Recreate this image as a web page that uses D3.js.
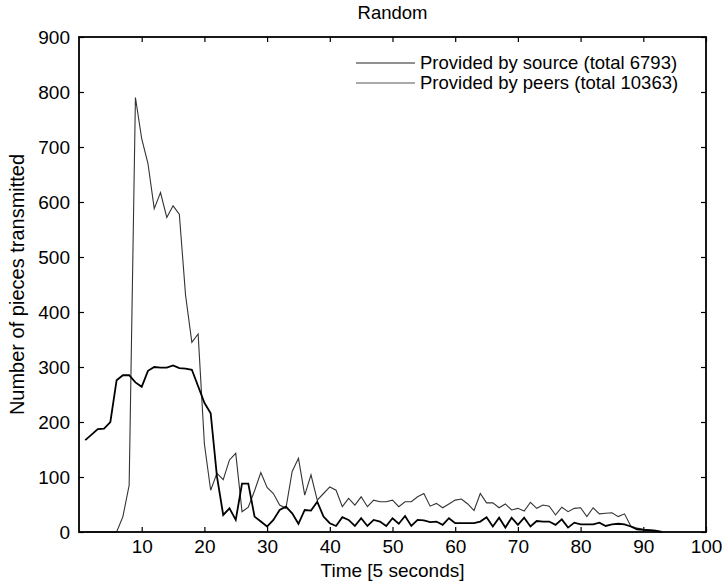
<!DOCTYPE html>
<html>
<head>
<meta charset="utf-8">
<script src="https://cdn.jsdelivr.net/npm/d3@7"></script>
<style>
  body { margin: 0; background: #fff; }
  text { font-family: "Liberation Sans", Arial, sans-serif; fill: #000; }
</style>
</head>
<body>
<div id="chart"></div>
<script>
const width = 722
const height = 582
const margin = { top: 37, bottom: 50, left: 79, right: 16 }

// time index (units of 5 seconds)
const time = d3.range(1, 94)

// pieces provided by the source, one per time step
const sourceValues = [
  167, 177, 187, 188, 200, 276, 285, 285, 272, 264,
  293, 300, 299, 299, 303, 298, 297, 295, 265, 235,
  216, 101, 31, 43, 22, 88, 88, 28, 19, 10,
  22, 40, 46, 34, 15, 40, 39, 55, 28, 16,
  11, 27, 22, 11, 25, 11, 22, 19, 11, 25,
  15, 29, 11, 22, 21, 18, 19, 13, 25, 16,
  16, 16, 16, 19, 27, 10, 26, 8, 26, 13,
  26, 10, 20, 19, 19, 13, 23, 8, 17, 14,
  14, 14, 17, 11, 14, 15, 14, 10, 5, 4,
  3, 2, 0
]

// pieces provided by the peers
const peerValues = [
  0, 0, 0, 0, 0, 0, 28, 85, 790, 715,
  670, 588, 617, 572, 593, 578, 430, 345, 360, 160,
  76, 107, 95, 131, 143, 37, 45, 75, 108, 81,
  70, 49, 43, 110, 134, 67, 104, 58, 70, 82,
  76, 46, 61, 49, 64, 46, 58, 55, 55, 58,
  46, 55, 55, 64, 70, 47, 52, 44, 51, 58,
  60, 51, 39, 70, 53, 53, 44, 51, 40, 43,
  38, 54, 43, 49, 47, 31, 45, 37, 43, 44,
  28, 44, 33, 34, 35, 28, 33, 11, 7, 5,
  4, 3, 0
]

const seriesNames = ["Provided by source (total 6793)", "Provided by peers (total 10363)"]
const xTicks = [10, 20, 30, 40, 50, 60, 70, 80, 90, 100]
const yTicks = [0, 100, 200, 300, 400, 500, 600, 700, 800, 900]

const svg = d3.select("div#chart").append("svg").attr("width", width).attr("height", height)

const x = d3.scaleLinear().domain([0, 100]).range([margin.left, width - margin.right])
const y = d3.scaleLinear().domain([0, 900]).range([height - margin.bottom, margin.top])

// axes, ticks pointing inwards like matlab
const xAxis = d3.axisBottom(x).tickValues(xTicks).tickSizeInner(-5).tickSizeOuter(0).tickPadding(8)
const yAxis = d3.axisLeft(y).tickValues(yTicks).tickSizeInner(-5).tickSizeOuter(0).tickPadding(9)
const xAxisTop = d3.axisTop(x).tickValues(xTicks).tickSizeInner(-5).tickSizeOuter(0).tickFormat("")
const yAxisRight = d3.axisRight(y).tickValues(yTicks).tickSizeInner(-5).tickSizeOuter(0).tickFormat("")

const axisGroup = svg.append("g").attr("id", "axisGroup")
axisGroup.append("g").attr("transform", `translate(0, ${y(0)})`).call(xAxis)
axisGroup.append("g").attr("transform", `translate(${x(0)}, 0)`).call(yAxis)
axisGroup.append("g").attr("transform", `translate(0, ${y(900)})`).call(xAxisTop)
axisGroup.append("g").attr("transform", `translate(${x(100)}, 0)`).call(yAxisRight)
axisGroup.selectAll(".domain").remove()
axisGroup.selectAll(".tick line").attr("stroke", "#000").attr("stroke-width", 1.2)
axisGroup.selectAll(".tick text").style("font-size", "19px")
  .style("font-family", "\"Liberation Sans\", Arial, sans-serif").attr("fill", "#000")

// lines
const lineFunc = values => d3.line()
  .x((d, i) => x(time[i]))
  .y(d => y(d))(values)

const elementGroup = svg.append("g").attr("id", "elementGroup")
elementGroup.append("path")
  .attr("d", lineFunc(peerValues))
  .attr("fill", "none")
  .attr("stroke", "#333")
  .attr("stroke-width", 1.1)
elementGroup.append("path")
  .attr("d", lineFunc(sourceValues))
  .attr("fill", "none")
  .attr("stroke", "#000")
  .attr("stroke-width", 1.8)

// plot box
svg.append("rect")
  .attr("x", x(0)).attr("y", y(900))
  .attr("width", x(100) - x(0)).attr("height", y(0) - y(900))
  .attr("fill", "none").attr("stroke", "#000").attr("stroke-width", 1.8)

// legend
const legendStyles = [{ stroke: "#222", w: 1 }, { stroke: "#555", w: 1.2 }]
seriesNames.forEach((name, i) => {
  const ly = 63 + i * 20
  svg.append("line").attr("x1", 356).attr("x2", 415).attr("y1", ly).attr("y2", ly)
    .attr("stroke", legendStyles[i].stroke).attr("stroke-width", legendStyles[i].w)
  svg.append("text").attr("x", 420).attr("y", ly).attr("dy", "0.35em")
    .style("font-size", "18.5px").text(name)
})

// titles
svg.append("text").attr("x", (x(0) + x(100)) / 2).attr("y", 19).attr("text-anchor", "middle")
  .style("font-size", "18.5px").text("Random")
svg.append("text").attr("x", (x(0) + x(100)) / 2).attr("y", 577).attr("text-anchor", "middle")
  .style("font-size", "19px").text("Time [5 seconds]")
svg.append("text").attr("transform", `translate(24, ${(y(0) + y(900)) / 2}) rotate(-90)`)
  .attr("text-anchor", "middle").style("font-size", "20px").text("Number of pieces transmitted")
</script>
</body>
</html>
